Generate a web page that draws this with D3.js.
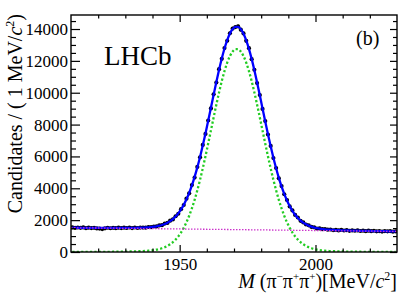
<!DOCTYPE html>
<html>
<head>
<meta charset="utf-8">
<script src="https://cdn.jsdelivr.net/npm/d3@7"></script>
<style>
	body{margin:0;background:#fff;}
	svg text{font-family:"Liberation Serif","Times New Roman",serif;fill:#000;}
</style>
</head>
<body>
<div id="plot"></div>
<script>
// 1 MeV bins, first bin starts at 1910
var binLo=1910, binWidth=1;
var counts=[1546,1514,1538,1516,1545,1498,1527,1501,1519,1483,
	1472,1442,1487,1521,1490,1515,1495,1530,1501,1526,
	1507,1538,1504,1537,1506,1535,1536,1529,1570,1560,
	1602,1603,1669,1682,1783,1828,1968,2047,2243,2402,
	2689,2951,3347,3683,4201,4673,5340,5947,6720,7411,
	8255,9012,9901,10643,11479,12126,12804,13262,13734,14026,
	14119,14167,13960,13724,13258,12796,12104,11443,10603,9857,
	8984,8225,7377,6662,5895,5274,4623,4142,3625,3265,
	2860,2609,2328,2165,1955,1857,1728,1674,1574,1547,
	1477,1482,1432,1444,1404,1412,1367,1389,1356,1389,
	1349,1369,1329,1355,1335,1356,1317,1338,1305,1337,
	1308,1335,1298,1315,1283,1315,1297,1315,1277,1300];
// fit total, at bin centres
var fitTotal=[1526,1524,1523,1521,1520,1518,1517,1516,1514,1513,
	1512,1512,1512,1511,1510,1510,1510,1510,1511,1511,
	1512,1513,1514,1517,1521,1525,1531,1539,1550,1565,
	1587,1613,1649,1697,1758,1838,1938,2067,2228,2427,
	2669,2961,3307,3713,4181,4713,5310,5967,6680,7441,
	8235,9052,9871,10673,11439,12146,12774,13302,13714,13996,
	14139,14137,13990,13704,13288,12756,12124,11413,10643,9837,
	9014,8195,7397,6632,5915,5254,4653,4117,3645,3235,
	2885,2589,2343,2140,1975,1842,1738,1654,1589,1537,
	1497,1467,1442,1424,1409,1397,1387,1379,1371,1364,
	1359,1354,1349,1345,1340,1336,1332,1328,1325,1322,
	1318,1315,1313,1310,1308,1305,1302,1300,1297,1295];
// signal component (green)
var fitSignal=[2,2,3,3,4,4,5,6,6,7,
	8,9,11,12,13,15,17,19,22,24,
	27,30,33,38,44,50,58,68,81,98,
	121,149,187,237,300,382,484,615,778,979,
	1223,1517,1865,2273,2743,3277,3876,4535,5250,6013,
	6809,7627,8448,9252,10020,10729,11359,11889,12303,12587,
	12732,12732,12587,12303,11889,11359,10729,10020,9252,8448,
	7627,6809,6013,5250,4535,3876,3277,2743,2273,1865,
	1517,1223,979,778,615,484,382,300,237,187,
	149,121,98,81,68,58,50,44,38,33,
	30,27,24,22,19,17,15,13,12,11,
	9,8,7,6,6,5,4,4,3,3];
// background component (magenta), straight line
var bgMass=[1910,2030];
var bgVals=[1525,1290];

var xTicks=[1950,2000];
var yTicks=[0,2000,4000,6000,8000,10000,12000,14000];

var W=419,H=301;
var L=71,R=397,T=15,B=252;

var svg=d3.select("#plot").append("svg").attr("width",W).attr("height",H);
var x=d3.scaleLinear().domain([1910,2030]).range([L,R]);
var y=d3.scaleLinear().domain([0,14880]).range([B,T]);

function centre(i){return binLo+binWidth*(i+0.5);}

var plot=svg.append("g");
plot.append("clipPath").attr("id","clip").append("rect")
	.attr("x",L).attr("y",T).attr("width",R-L).attr("height",B-T);
var inner=plot.append("g").attr("clip-path","url(#clip)");

var line=d3.line().curve(d3.curveMonotoneX);

// data under the curves, dots peek out from the blue line
var pts=inner.selectAll("g.pt").data(counts).enter().append("g").attr("class","pt");
pts.append("line")
	.attr("x1",function(d,i){return x(centre(i));}).attr("x2",function(d,i){return x(centre(i));})
	.attr("y1",function(d){return y(d+Math.sqrt(d));}).attr("y2",function(d){return y(d-Math.sqrt(d));})
	.attr("stroke","#000").attr("stroke-width",0.8);
pts.append("circle")
	.attr("cx",function(d,i){return x(centre(i));}).attr("cy",function(d){return y(d);})
	.attr("r",2.1).attr("fill","#000");

inner.append("path")
	.attr("d",line(fitSignal.map(function(v,i){return [x(centre(i)),y(v)];})))
	.attr("fill","none").attr("stroke","#22cc22").attr("stroke-width",2.3)
	.attr("stroke-dasharray","2.2,2.2");
inner.append("path")
	.attr("d",line(fitTotal.map(function(v,i){return [x(centre(i)),y(v)];})))
	.attr("fill","none").attr("stroke","#0000ff").attr("stroke-width",2.3);
inner.append("path")
	.attr("d",d3.line()(bgMass.map(function(m,i){return [x(m),y(bgVals[i])];})))
	.attr("fill","none").attr("stroke","#cc33cc").attr("stroke-width",1.3)
	.attr("stroke-dasharray","1.5,1.5");

// axes, ticks pointing inwards
var minorX=d3.range(1920,2030,10).filter(function(v){return xTicks.indexOf(v)<0;});
var minorY=d3.range(500,14880,500).filter(function(v){return yTicks.indexOf(v)<0;});

function clean(g){g.select(".domain").remove();g.selectAll("line").attr("stroke","#000").attr("stroke-width",1.2);}

svg.append("g").attr("transform","translate(0,"+B+")")
	.call(d3.axisBottom(x).tickValues(xTicks).tickSize(-7).tickPadding(6).tickFormat(d3.format("d")))
	.call(clean).selectAll("text").attr("font-size",17);
svg.append("g").attr("transform","translate(0,"+B+")")
	.call(d3.axisBottom(x).tickValues(minorX).tickSize(-3.5).tickFormat("")).call(clean);
svg.append("g").attr("transform","translate(0,"+T+")")
	.call(d3.axisTop(x).tickValues(xTicks).tickSize(-7).tickFormat("")).call(clean);
svg.append("g").attr("transform","translate(0,"+T+")")
	.call(d3.axisTop(x).tickValues(minorX).tickSize(-3.5).tickFormat("")).call(clean);

svg.append("g").attr("transform","translate("+L+",0)")
	.call(d3.axisLeft(y).tickValues(yTicks).tickSize(-9).tickPadding(3).tickFormat(d3.format("d")))
	.call(clean).selectAll("text").attr("font-size",17);
svg.append("g").attr("transform","translate("+L+",0)")
	.call(d3.axisLeft(y).tickValues(minorY).tickSize(-5).tickFormat("")).call(clean);
svg.append("g").attr("transform","translate("+R+",0)")
	.call(d3.axisRight(y).tickValues(yTicks).tickSize(-7).tickFormat("")).call(clean);
svg.append("g").attr("transform","translate("+R+",0)")
	.call(d3.axisRight(y).tickValues(minorY).tickSize(-4).tickFormat("")).call(clean);

svg.append("rect").attr("x",L).attr("y",T).attr("width",R-L).attr("height",B-T)
	.attr("fill","none").attr("stroke","#000").attr("stroke-width",1.4);

// titles
var xt=svg.append("text").attr("x",R).attr("y",288).attr("text-anchor","end").attr("font-size",20);
xt.append("tspan").attr("font-style","italic").text("M");
xt.append("tspan").text(" (\u03c0");
xt.append("tspan").attr("font-size",11).attr("dy",-8).text("\u2212");
xt.append("tspan").attr("dy",8).text("\u03c0");
xt.append("tspan").attr("font-size",11).attr("dy",-8).text("+");
xt.append("tspan").attr("dy",8).text("\u03c0");
xt.append("tspan").attr("font-size",11).attr("dy",-8).text("+");
xt.append("tspan").attr("dy",8).text(")[MeV/");
xt.append("tspan").attr("font-style","italic").text("c");
xt.append("tspan").attr("font-size",12).attr("dy",-8).text("2");
xt.append("tspan").attr("dy",8).text("]");

var yt=svg.append("text").attr("transform","translate(22,14) rotate(-90)")
	.attr("text-anchor","end").attr("font-size",20);
yt.append("tspan").text("Candidates / ( 1 MeV/");
yt.append("tspan").attr("font-style","italic").text("c");
yt.append("tspan").attr("font-size",12).attr("dy",-8).text("2");
yt.append("tspan").attr("dy",8).text(")");

svg.append("text").attr("x",104).attr("y",65).attr("font-size",27).text("LHCb");
svg.append("text").attr("x",356).attr("y",45).attr("font-size",20).text("(b)");
</script>
</body>
</html>
